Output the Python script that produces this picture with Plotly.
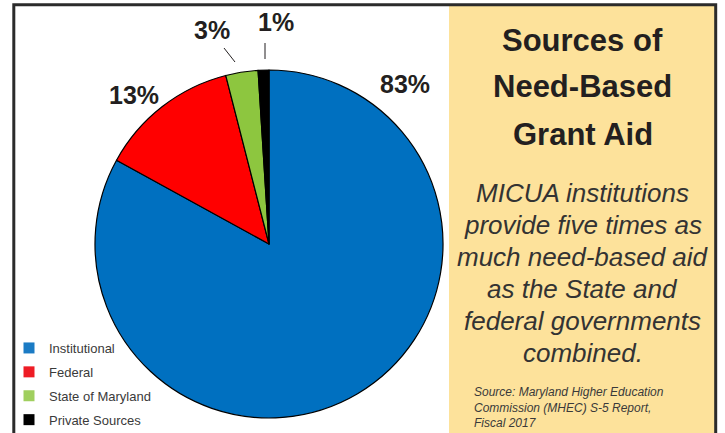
import plotly.graph_objects as go

# ---- data ----
categories = ["Institutional", "Federal", "State of Maryland", "Private Sources"]
shares = [83, 13, 3, 1]
slice_colors = ["#0070C0", "#FF0000", "#8DC63F", "#000000"]
legend_colors = ["#1B7BC4", "#EE1C25", "#A0CF5E", "#000000"]
pct_labels = [f"{v}%" for v in shares]
title_lines = ["Sources of", "Need-Based", "Grant Aid"]
body_lines = ["MICUA institutions", "provide five times as", "much need-based aid",
              "as the State and", "federal governments", "combined."]
source_text = "Source: Maryland Higher Education<br>Commission (MHEC) S-5 Report,<br>Fiscal 2017"

# ---- layout geometry (pixels) ----
W, H = 725, 433
cx, cy, R = 269, 244, 174
label_pos = [(405, 84), (134, 95), (212, 30), (276, 22)]
leader_lines = [(224, 48, 235, 62), (265, 43, 265, 59)]
title_y = [40, 87, 134]
body_y = [193, 225, 257, 289, 321, 353]


def px(x):
    return x / W


def py(y):
    return 1 - y / H


fig = go.Figure()
fig.add_trace(go.Pie(
    labels=categories, values=shares, sort=False, direction="clockwise", rotation=0,
    marker=dict(colors=slice_colors, line=dict(color="#000000", width=1.2)),
    textinfo="none", hoverinfo="label+percent", showlegend=False,
    domain=dict(x=[px(cx - R), px(cx + R)], y=[py(cy + R), py(cy - R)]),
))
for name, col in zip(categories, legend_colors):
    fig.add_trace(go.Scatter(
        x=[None], y=[None], mode="markers", name=name, legendgroup=name,
        marker=dict(symbol="square", size=11, color=col), showlegend=True,
        hoverinfo="skip",
    ))

shapes = [
    dict(type="rect", xref="paper", yref="paper", x0=px(449), x1=px(715), y0=-0.05, y1=py(5),
         fillcolor="#FDE29B", line=dict(width=0), layer="below"),
    dict(type="rect", xref="paper", yref="paper", x0=px(13.8), x1=px(715.7), y0=-0.05, y1=py(4.7),
         fillcolor="rgba(0,0,0,0)", line=dict(color="#2B2B2B", width=3)),
]
for (x0, y0, x1, y1) in leader_lines:
    shapes.append(dict(type="line", xref="paper", yref="paper", x0=px(x0), y0=py(y0),
                       x1=px(x1), y1=py(y1), line=dict(color="#231F20", width=1)))

ann = []
for t, (x, y) in zip(pct_labels, label_pos):
    ann.append(dict(text=t, x=px(x), y=py(y), xref="paper", yref="paper", showarrow=False,
                    xanchor="center", yanchor="middle",
                    font=dict(family="Liberation Sans", size=25, color="#231F20", weight="bold")))
for t, y in zip(title_lines, title_y):
    ann.append(dict(text=t, x=px(582.5), y=py(y), xref="paper", yref="paper", showarrow=False,
                    xanchor="center", yanchor="middle",
                    font=dict(family="Liberation Sans", size=31, color="#231F20", weight="bold")))
for t, y in zip(body_lines, body_y):
    ann.append(dict(text=t, x=px(582.5), y=py(y), xref="paper", yref="paper", showarrow=False,
                    xanchor="center", yanchor="middle",
                    font=dict(family="Liberation Sans", size=26, color="#333333", style="italic")))
ann.append(dict(text=source_text, x=px(472), y=py(383), xref="paper", yref="paper", showarrow=False,
                xanchor="left", yanchor="top", align="left",
                font=dict(family="Liberation Sans", size=12, color="#3A3A3A", style="italic")))

fig.update_layout(
    width=W, height=H, margin=dict(l=0, r=0, t=0, b=0, autoexpand=False),
    paper_bgcolor="white", plot_bgcolor="white",
    xaxis=dict(visible=False), yaxis=dict(visible=False),
    shapes=shapes, annotations=ann,
    showlegend=True,
    legend=dict(x=px(9), y=py(333), xanchor="left", yanchor="top",
                bgcolor="rgba(0,0,0,0)", tracegroupgap=4,
                font=dict(family="Liberation Sans", size=13, color="#3A3A3A")),
)

fig.write_html("out.html", config={"displayModeBar": False},
               post_script="document.body.style.margin='0';document.body.style.overflow='hidden';")
